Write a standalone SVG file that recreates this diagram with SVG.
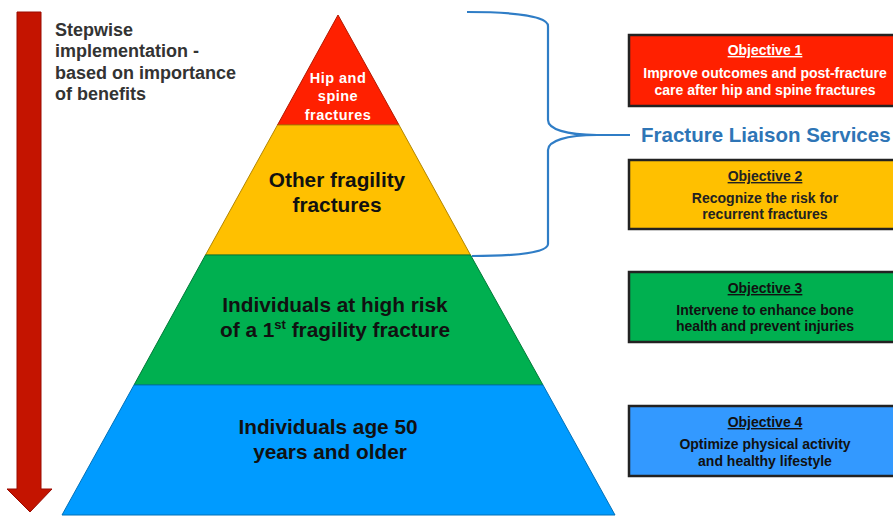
<svg xmlns="http://www.w3.org/2000/svg" width="893" height="516" viewBox="0 0 893 516">
<style>
text{font-family:"Liberation Sans",Arial,sans-serif;font-weight:bold;}
.obj{font-size:14px;text-anchor:middle;}
.ttl{text-decoration:underline;}
.tier{font-size:20.8px;text-anchor:middle;fill:#111;}
.box{stroke:#222;stroke-width:2.5;}
</style>
<rect width="893" height="516" fill="#fff"/>
<g id="arrow">
<path d="M17,12 H41 V489 H52 L30,512 L7,489 H17 Z" fill="#C41400" stroke="#9A0A00" stroke-width="1"/>
</g>
<g id="stepwise-label">
<text x="55" y="36" font-size="18" fill="#333">Stepwise</text>
<text x="55" y="57" font-size="18" fill="#333">implementation -</text>
<text x="55" y="79" font-size="18" fill="#333">based on importance</text>
<text x="55" y="100" font-size="18" fill="#333">of benefits</text>
</g>
<g id="tier-hip-spine">
<polygon points="338,15 399,125 277.5,125" fill="#FF2000" stroke="#B31800" stroke-width="1"/>
<text x="338" y="83" font-size="14.5" fill="#fff" text-anchor="middle" letter-spacing="0.5">Hip and</text>
<text x="338" y="101" font-size="14.5" fill="#fff" text-anchor="middle" letter-spacing="0.5">spine</text>
<text x="338" y="120" font-size="14.5" fill="#fff" text-anchor="middle" letter-spacing="0.5">fractures</text>
</g>
<g id="tier-other">
<polygon points="277.5,125 399,125 470.5,255 205.5,255" fill="#FFC000" stroke="#B38600" stroke-width="1"/>
<text class="tier" x="337" y="187">Other fragility</text>
<text class="tier" x="337" y="212">fractures</text>
</g>
<g id="tier-high-risk">
<polygon points="205.5,255 470.5,255 543,385 134,385" fill="#00B050" stroke="#007A38" stroke-width="1"/>
<text class="tier" x="335" y="312">Individuals at high risk</text>
<text class="tier" x="335" y="337">of a 1<tspan font-size="13" dy="-8">st</tspan><tspan dy="8"> fragility fracture</tspan></text>
</g>
<g id="tier-age50">
<polygon points="134,385 543,385 615,515 62,515" fill="#009BFF" stroke="#0070B8" stroke-width="1"/>
<text class="tier" x="328" y="434">Individuals age 50</text>
<text class="tier" x="330" y="459">years and older</text>
</g>
<g id="connectors">
<path d="M467,12 C520,12 548,17 548,26 L548,120 C548,129 566,135 597,135 L630,135 M597,135 C566,135 548,141 548,150 L548,244 C548,252 520,256 472,256" fill="none" stroke="#2F7DC6" stroke-width="2.2"/>
</g>
<g id="fls-label">
<text x="641" y="142" font-size="20.5" fill="#2E75B6">Fracture Liaison Services</text>
</g>
<g id="objective-1">
<rect class="box" x="629" y="35" width="272" height="71" fill="#FF2000"/>
<text class="obj ttl" x="765" y="55" fill="#fff">Objective 1</text>
<text class="obj" x="765" y="78" fill="#fff">Improve outcomes and post-fracture</text>
<text class="obj" x="765" y="95" fill="#fff">care after hip and spine fractures</text>
</g>
<g id="objective-2">
<rect class="box" x="629" y="160" width="272" height="69" fill="#FFC000"/>
<text class="obj ttl" x="765" y="181" fill="#222">Objective 2</text>
<text class="obj" x="765" y="203" fill="#222">Recognize the risk for</text>
<text class="obj" x="765" y="219" fill="#222">recurrent fractures</text>
</g>
<g id="objective-3">
<rect class="box" x="629" y="272" width="272" height="70" fill="#00B050"/>
<text class="obj ttl" x="765" y="293" fill="#111">Objective 3</text>
<text class="obj" x="765" y="315" fill="#111">Intervene to enhance bone</text>
<text class="obj" x="765" y="331" fill="#111">health and prevent injuries</text>
</g>
<g id="objective-4">
<rect class="box" x="629" y="406" width="272" height="70" fill="#3399FF"/>
<text class="obj ttl" x="765" y="427" fill="#111">Objective 4</text>
<text class="obj" x="765" y="449" fill="#111">Optimize physical activity</text>
<text class="obj" x="765" y="466" fill="#111">and healthy lifestyle</text>
</g>
</svg>
